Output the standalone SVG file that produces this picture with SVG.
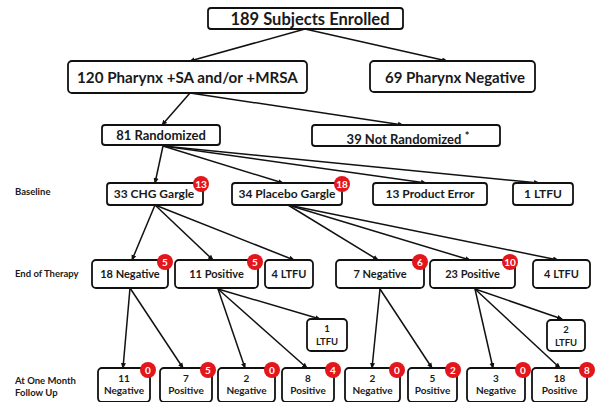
<svg xmlns="http://www.w3.org/2000/svg" width="598" height="402" viewBox="0 0 598 402">
<style>
.box{fill:#fff;stroke:#111;stroke-width:1.8}
.t{font-family:Lato,"Liberation Sans",sans-serif;font-weight:bold;fill:#1a1a1a;text-anchor:middle}
.lbl{font-family:Lato,"Liberation Sans",sans-serif;font-weight:bold;fill:#1a1a1a;font-size:9.5px}
.badge{fill:#e3161b}
.bt{font-family:Lato,"Liberation Sans",sans-serif;font-weight:bold;fill:#fff;text-anchor:middle;font-size:10px}
.c line{stroke:#111;stroke-width:1.5;marker-end:url(#ah)}
</style>
<defs>
<marker id="ah" markerWidth="6" markerHeight="6" refX="5" refY="3" orient="auto" markerUnits="userSpaceOnUse">
<path d="M0,0.5 L6,3 L0,5.5 Z" fill="#111"/>
</marker>
</defs>
<rect width="598" height="402" fill="#fff"/>
<g class="c" id="connectors">
<line x1="305" y1="29" x2="190" y2="61"/>
<line x1="305" y1="29" x2="447" y2="61"/>
<line x1="190" y1="93" x2="162" y2="125"/>
<line x1="190" y1="93" x2="403" y2="125"/>
<line x1="163" y1="146" x2="155" y2="183"/>
<line x1="163" y1="146" x2="283" y2="183"/>
<line x1="163" y1="146" x2="426" y2="183"/>
<line x1="163" y1="146" x2="539" y2="183"/>
<line x1="155" y1="205" x2="132" y2="260"/>
<line x1="155" y1="205" x2="213" y2="260"/>
<line x1="155" y1="205" x2="294" y2="260"/>
<line x1="288" y1="205" x2="378" y2="260"/>
<line x1="288" y1="205" x2="470" y2="260"/>
<line x1="288" y1="205" x2="558" y2="260"/>
<line x1="130" y1="288" x2="123" y2="368"/>
<line x1="130" y1="288" x2="183" y2="368"/>
<line x1="218" y1="289" x2="245" y2="368"/>
<line x1="218" y1="289" x2="307" y2="368"/>
<line x1="218" y1="289" x2="320" y2="319"/>
<line x1="380" y1="289" x2="372" y2="368"/>
<line x1="380" y1="289" x2="432" y2="368"/>
<line x1="475" y1="289" x2="493" y2="368"/>
<line x1="475" y1="289" x2="560" y2="368"/>
<line x1="475" y1="289" x2="562" y2="319"/>
</g>
<g id="stage-labels">
<text class="lbl" x="15" y="195">Baseline</text>
<text class="lbl" x="15" y="277">End of Therapy</text>
<text class="lbl" x="15" y="384">At One Month</text>
<text class="lbl" x="15" y="396">Follow Up</text>
</g>
<g id="enrolled"><rect class="box" x="208" y="8" width="195" height="21" rx="3"/><text class="t" x="310" y="25" font-size="16.5">189 Subjects Enrolled</text></g>
<g id="pharynx-pos"><rect class="box" x="68" y="61" width="239" height="32" rx="4"/><text class="t" x="187.5" y="83" font-size="15.2">120 Pharynx +SA and/or +MRSA</text></g>
<g id="pharynx-neg"><rect class="box" x="370" y="61" width="165" height="31" rx="4"/><text class="t" x="455" y="83" font-size="15">69 Pharynx Negative</text></g>
<g id="randomized"><rect class="box" x="102" y="125" width="118" height="20" rx="3"/><text class="t" x="161" y="140" font-size="13">81 Randomized</text></g>
<g id="not-randomized"><rect class="box" x="312" y="125" width="188" height="21" rx="3"/><text class="t" x="404" y="144" font-size="13">39 Not Randomized</text><text class="t" x="467" y="140" font-size="11">*</text></g>
<g id="chg"><rect class="box" x="107" y="183" width="96" height="22" rx="3"/><text class="t" x="154" y="198" font-size="12">33 CHG Gargle</text><circle class="badge" cx="201" cy="184" r="8"/><text class="bt" x="201" y="187.5">13</text></g>
<g id="placebo"><rect class="box" x="232" y="183" width="110" height="22" rx="3"/><text class="t" x="287" y="198" font-size="12">34 Placebo Gargle</text><circle class="badge" cx="342" cy="184" r="8"/><text class="bt" x="342" y="187.5">18</text></g>
<g id="product-error"><rect class="box" x="373" y="183" width="114" height="22" rx="3"/><text class="t" x="430" y="198" font-size="12">13 Product Error</text></g>
<g id="ltfu-base"><rect class="box" x="513" y="183" width="60" height="22" rx="3"/><text class="t" x="543" y="198" font-size="12">1 LTFU</text></g>
<g id="eot-chg-neg"><rect class="box" x="92" y="260" width="76" height="28" rx="4"/><text class="t" x="130" y="278" font-size="11">18 Negative</text><circle class="badge" cx="165" cy="262" r="8"/><text class="bt" x="165" y="265.5">5</text></g>
<g id="eot-chg-pos"><rect class="box" x="175" y="260" width="83" height="28" rx="4"/><text class="t" x="216.5" y="278" font-size="11">11 Positive</text><circle class="badge" cx="255" cy="262" r="8"/><text class="bt" x="255" y="265.5">5</text></g>
<g id="eot-chg-ltfu"><rect class="box" x="265" y="260" width="48" height="28" rx="4"/><text class="t" x="289" y="278" font-size="11">4 LTFU</text></g>
<g id="eot-pl-neg"><rect class="box" x="336" y="260" width="88" height="28" rx="4"/><text class="t" x="380" y="278" font-size="11">7 Negative</text><circle class="badge" cx="420" cy="262" r="8"/><text class="bt" x="420" y="265.5">6</text></g>
<g id="eot-pl-pos"><rect class="box" x="430" y="260" width="85" height="28" rx="4"/><text class="t" x="472.5" y="278" font-size="11">23 Positive</text><circle class="badge" cx="510" cy="262" r="8"/><text class="bt" x="510" y="265.5">10</text></g>
<g id="eot-pl-ltfu"><rect class="box" x="533" y="260" width="57" height="28" rx="4"/><text class="t" x="561.5" y="278" font-size="11">4 LTFU</text></g>
<g id="ltfu-chg-pos"><rect class="box" x="307" y="319" width="40" height="32" rx="4"/><text class="t" x="327" y="332" font-size="9.5">1</text><text class="t" x="327" y="345" font-size="9.5">LTFU</text></g>
<g id="ltfu-pl-pos"><rect class="box" x="547" y="320" width="38" height="31" rx="4"/><text class="t" x="566" y="333" font-size="9.5">2</text><text class="t" x="566" y="346" font-size="9.5">LTFU</text></g>
<g id="fu-1"><rect class="box" x="98" y="368" width="52" height="34" rx="4"/><text class="t" x="124" y="382" font-size="10">11</text><text class="t" x="124" y="394" font-size="10">Negative</text><circle class="badge" cx="148" cy="370" r="8"/><text class="bt" x="148" y="373.5">0</text></g>
<g id="fu-2"><rect class="box" x="160" y="368" width="52" height="34" rx="4"/><text class="t" x="186" y="382" font-size="10">7</text><text class="t" x="186" y="394" font-size="10">Positive</text><circle class="badge" cx="208" cy="370" r="8"/><text class="bt" x="208" y="373.5">5</text></g>
<g id="fu-3"><rect class="box" x="218" y="368" width="57" height="34" rx="4"/><text class="t" x="246.5" y="382" font-size="10">2</text><text class="t" x="246.5" y="394" font-size="10">Negative</text><circle class="badge" cx="272" cy="370" r="8"/><text class="bt" x="272" y="373.5">0</text></g>
<g id="fu-4"><rect class="box" x="282" y="368" width="52" height="34" rx="4"/><text class="t" x="308" y="382" font-size="10">8</text><text class="t" x="308" y="394" font-size="10">Positive</text><circle class="badge" cx="333" cy="370" r="8"/><text class="bt" x="333" y="373.5">4</text></g>
<g id="fu-5"><rect class="box" x="345" y="368" width="55" height="34" rx="4"/><text class="t" x="372.5" y="382" font-size="10">2</text><text class="t" x="372.5" y="394" font-size="10">Negative</text><circle class="badge" cx="397" cy="370" r="8"/><text class="bt" x="397" y="373.5">0</text></g>
<g id="fu-6"><rect class="box" x="408" y="368" width="49" height="34" rx="4"/><text class="t" x="432.5" y="382" font-size="10">5</text><text class="t" x="432.5" y="394" font-size="10">Positive</text><circle class="badge" cx="453" cy="370" r="8"/><text class="bt" x="453" y="373.5">2</text></g>
<g id="fu-7"><rect class="box" x="467" y="368" width="58" height="34" rx="4"/><text class="t" x="496" y="382" font-size="10">3</text><text class="t" x="496" y="394" font-size="10">Negative</text><circle class="badge" cx="523" cy="370" r="8"/><text class="bt" x="523" y="373.5">0</text></g>
<g id="fu-8"><rect class="box" x="532" y="368" width="55" height="34" rx="4"/><text class="t" x="559.5" y="382" font-size="10">18</text><text class="t" x="559.5" y="394" font-size="10">Positive</text><circle class="badge" cx="587" cy="370" r="8"/><text class="bt" x="587" y="373.5">8</text></g>
</svg>
